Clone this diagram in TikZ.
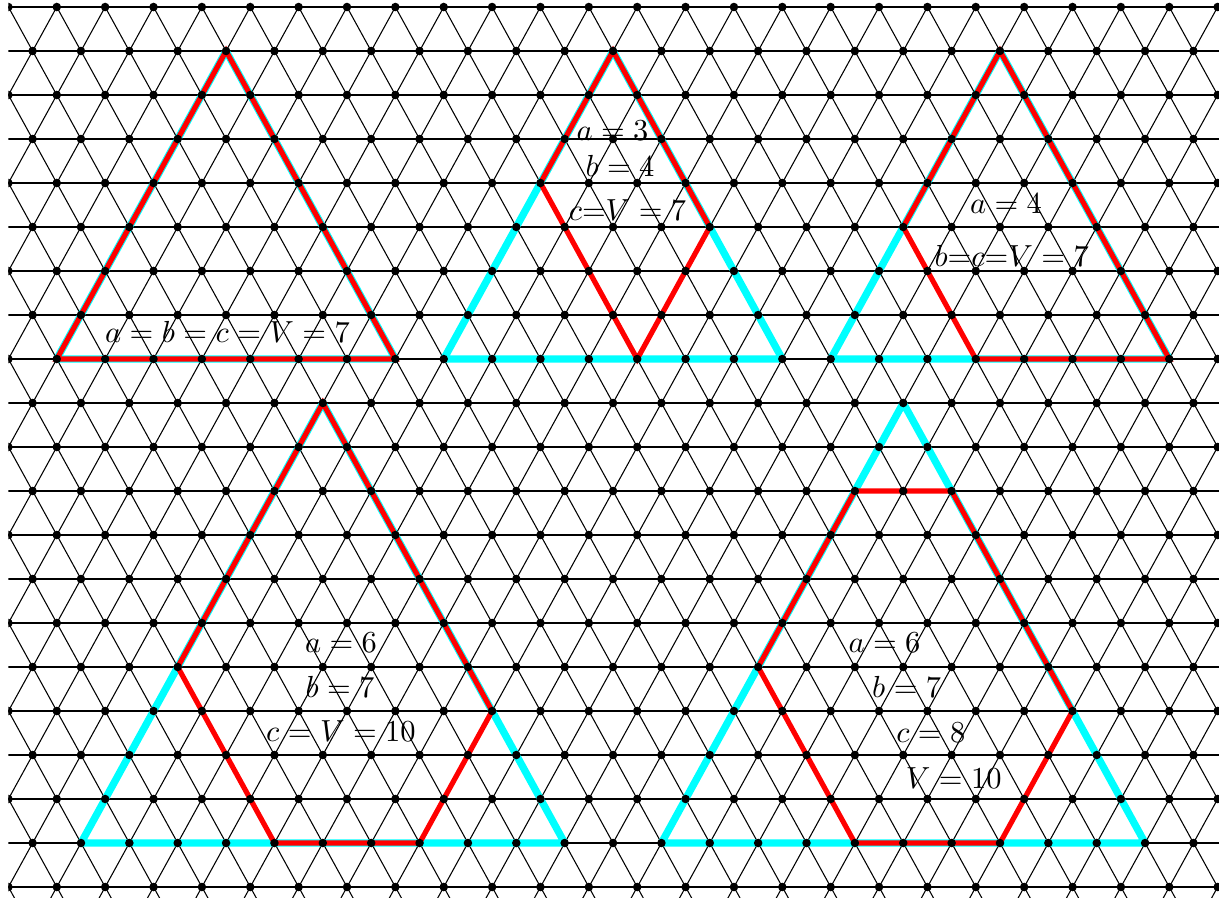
\documentclass[tikz,border=0pt]{standalone}
\definecolor{aqua}{RGB}{0,255,255}
\definecolor{pured}{RGB}{255,0,0}
\begin{document}
\begin{tikzpicture}[x=0.328pt,y=-0.328pt,
  latline/.style={black,line width=0.35pt},
  latdot/.style={black},
  cyanpath/.style={aqua,line width=2.4pt,line join=bevel},
  redpath/.style={pured,line width=1.7pt},
  lbl/.style={text=black}]
\useasboundingbox (0,0) rectangle (1219,897);
\begin{scope}
\clip (8.4,0) rectangle (1219,897);
\begin{scope}[shift={(8.4,7)},x={(15.865pt,0pt)},y={(7.933pt,-14.432pt)}]
  % horizontal lines
  \foreach \rr in {0,...,21} \draw[latline] (-12,\rr) -- (30,\rr);
  % down-right lines
  \foreach \ii in {-11,...,26} \draw[latline] (\ii,0) -- (\ii,21);
  % down-left lines
  \foreach \mm in {0,...,37} \draw[latline] (\mm,0) -- ({\mm-21},21);
  % cyan triangles
  \draw[cyanpath] (4,1) -- (-3,8) -- (4,8) -- cycle;
  \draw[cyanpath] (12,1) -- (5,8) -- (12,8) -- cycle;
  \draw[cyanpath] (20,1) -- (13,8) -- (20,8) -- cycle;
  \draw[cyanpath] (2,9) -- (-8,19) -- (2,19) -- cycle;
  \draw[cyanpath] (14,9) -- (4,19) -- (14,19) -- cycle;
  % red paths
  \draw[redpath] (4,1) -- (-3,8) -- (4,8) -- cycle;
  \draw[redpath] (12,1) -- (9,4) -- (9,8) -- (12,5) -- cycle;
  \draw[redpath] (20,1) -- (16,5) -- (16,8) -- (20,8) -- cycle;
  \draw[redpath] (2,9) -- (-4,15) -- (-4,19) -- (-1,19) -- (2,16) -- cycle;
  \draw[redpath] (12,11) -- (14,11) -- (14,16) -- (11,19) -- (8,19) -- (8,15) -- cycle;
  % dots
  \foreach \rr in {0,...,20}
    \foreach \kk in {0,...,25}
      \fill[latdot] ({\kk-floor(\rr/2)},\rr) circle (1.4pt);
\end{scope}
\end{scope}
% labels
\node[lbl] (t1) at (227.5,332) {$a=b=c=V=7$};
\node[lbl] (t2a) at (612.5,131) {$a=3$};
\node[lbl] (t2b) at (620,165.5) {$b=4$};
\node[lbl] (t2c) at (627.5,210.5) {$c$=$V=7$};
\node[lbl] (t3a) at (1006,204) {$a=4$};
\node[lbl] (t3b) at (1011.7,256) {$b$=$c$=$V=7$};
\node[lbl] (t4a) at (341,642.5) {$a=6$};
\node[lbl] (t4b) at (340,687) {$b=7$};
\node[lbl] (t4c) at (341,731) {$c=V=10$};
\node[lbl] (t5a) at (884.5,642.5) {$a=6$};
\node[lbl] (t5b) at (906.7,687) {$b=7$};
\node[lbl] (t5c) at (930.8,733) {$c=8$};
\node[lbl] (t5d) at (953.8,778) {$V=10$};
\end{tikzpicture}
\end{document}
